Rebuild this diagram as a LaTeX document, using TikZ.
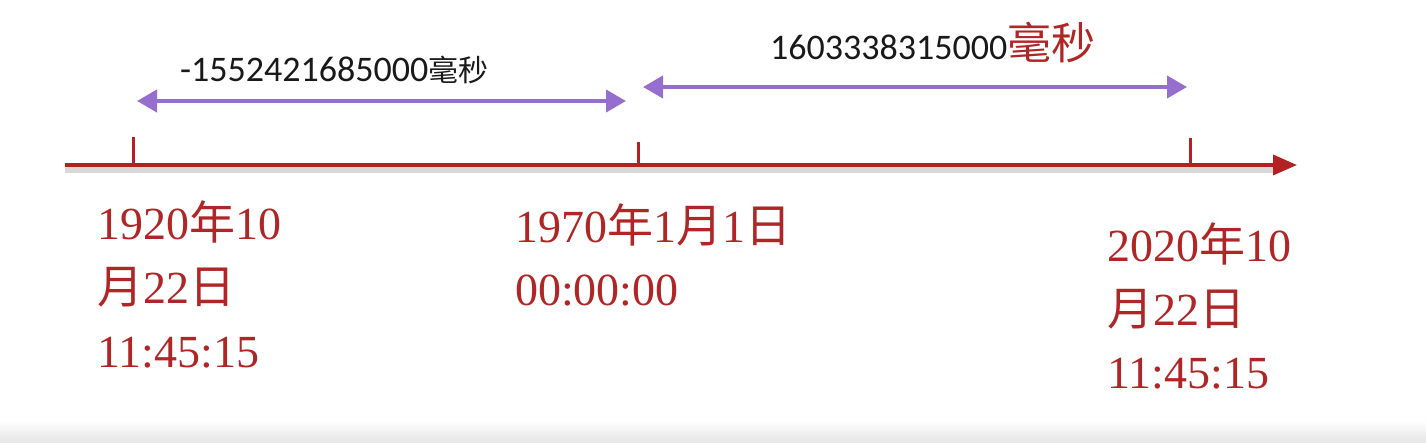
\documentclass[tikz,border=0pt]{standalone}
\usepackage{fontspec}
\setmainfont{Liberation Serif}
\newfontfamily\labelfont{Carlito}
\newfontfamily\cjk{Noto Sans CJK SC}
\usetikzlibrary{positioning, arrows.meta}
\definecolor{axisred}{RGB}{178,34,34}
\definecolor{datered}{RGB}{176,38,38}
\definecolor{spanpurple}{RGB}{150,110,205}
\definecolor{textblack}{RGB}{25,25,25}
\newcommand{\zh}[1]{{\cjk #1}}

\begin{document}
\begin{tikzpicture}[
    x=1pt, y=1pt,
    axis/.style={draw=axisred, line width=3.5pt},
    tick/.style={draw=axisred, line width=3pt},
    span/.style={draw=spanpurple, line width=4pt, {Triangle[length=20pt, width=22pt]}-{Triangle[length=20pt, width=22pt]}},
    shade line/.style={draw=black!30, line width=6pt, opacity=0.5},
    date/.style={text=datered, font=\fontsize{46}{52}\selectfont, anchor=base west, inner sep=0pt},
    ms/.style={text=textblack, font=\labelfont\fontsize{36}{40}\selectfont, anchor=base west, inner sep=0pt}
]
\useasboundingbox (0,0) rectangle (1426,442);
% Bottom band
\fill[top color=white, bottom color=black!10] (0,0) rectangle (1426,22);

% Axis points
\coordinate (start) at (65,277);
\coordinate (end) at (1297,277);
\coordinate (t1920) at (133,277);
\coordinate (t1970) at (638,277);
\coordinate (t2020) at (1190,277);
\coordinate (t1920top) at (133,305);
\coordinate (t1970top) at (638,300);
\coordinate (t2020top) at (1190,304);

% Shadow and axis
\draw[shade line] ([yshift=-5pt]start) -- ([xshift=-20pt, yshift=-5pt]end);
\draw[axis, -{Triangle[length=24pt, width=20pt]}] (start) -- (end);
\draw[tick] (t1920) -- (t1920top);
\draw[tick] (t1970) -- (t1970top);
\draw[tick] (t2020) -- (t2020top);

% Spans
\coordinate (s1l) at (137,341);
\coordinate (s1r) at (626,341);
\coordinate (s2l) at (643,355);
\coordinate (s2r) at (1187,355);
\draw[span] (s1l) -- (s1r);
\draw[span] (s2l) -- (s2r);

% Millisecond labels
\node[ms] (ms1) at (180,360) {-1552421685000{\cjk\fontsize{30}{34}\selectfont 毫秒}};
\node[ms] (ms2) at (770,382) {1603338315000};
\node[ms, text=datered, font=\cjk\fontsize{44}{48}\selectfont] (ms2unit) at (ms2.base east) {毫秒};

% Dates
\node[date] (d1920a) at (97,202) {1920\zh{年}10};
\node[date] (d1920b) at (97,139) {\zh{月}22\zh{日}};
\node[date] (d1920c) at (97,75) {11:45:15};
\node[date] (d1970a) at (515,199) {1970\zh{年}1\zh{月}1\zh{日}};
\node[date] (d1970b) at (515,137) {00:00:00};
\node[date] (d2020a) at (1107,180) {2020\zh{年}10};
\node[date] (d2020b) at (1107,117) {\zh{月}22\zh{日}};
\node[date] (d2020c) at (1107,54) {11:45:15};

\end{tikzpicture}
\end{document}
